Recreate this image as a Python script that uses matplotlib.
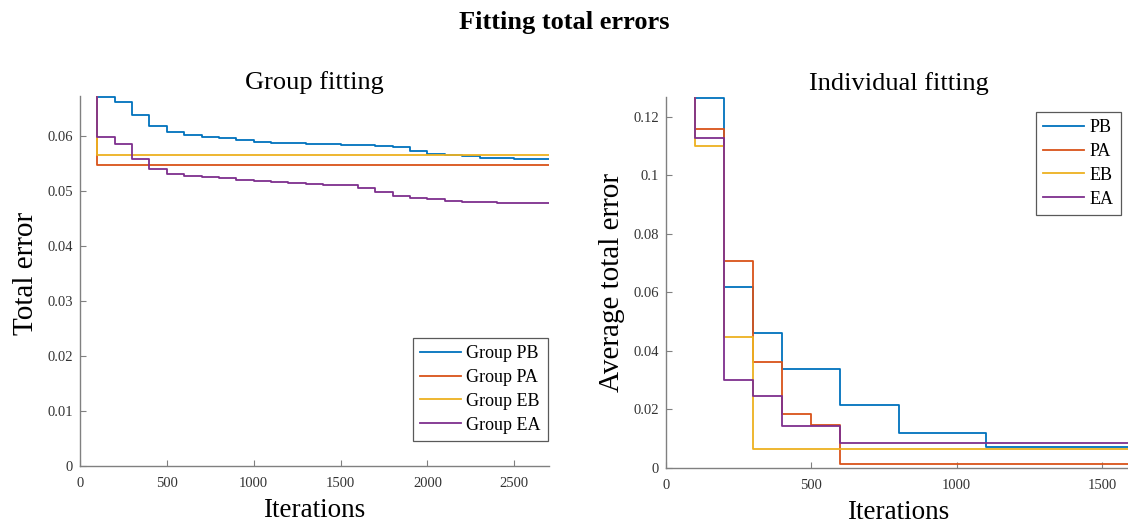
import numpy as np
import matplotlib
matplotlib.use('Agg')
import matplotlib.pyplot as plt
from matplotlib.ticker import FormatStrFormatter

plt.rcParams['font.family'] = ['Liberation Serif', 'DejaVu Serif']

# MATLAB default line colours
colors = ['#0072BD', '#D95319', '#EDB120', '#7E2F8E']

# Group fitting: best error per 100 iterations (levels at 100..2600, end at 2700)
group_iters = np.arange(100, 2800, 100)
group_start = 0.0672
group_pb = [0.0672, 0.0662, 0.0638, 0.0619, 0.0608, 0.0602, 0.0599, 0.0596, 0.0593,
            0.0590, 0.0588, 0.0587, 0.0586, 0.0585, 0.0584, 0.0583, 0.0582, 0.0581,
            0.0573, 0.0567, 0.0565, 0.0563, 0.0561, 0.0560, 0.0559, 0.0558]
group_pa = [0.0547] * 26
group_eb = [0.0565] * 26
group_ea = [0.0599, 0.0585, 0.0558, 0.0540, 0.0532, 0.0528, 0.0525, 0.0523, 0.0521,
            0.0519, 0.0517, 0.0515, 0.0513, 0.0512, 0.0511, 0.0505, 0.0498, 0.0491,
            0.0487, 0.0485, 0.0482, 0.0481, 0.0480, 0.0479, 0.0479, 0.0478]
group_labels = ['Group PB', 'Group PA', 'Group EB', 'Group EA']

# Individual fitting: average error (levels at 100..1500, end at 1600)
ind_iters = np.arange(100, 1700, 100)
ind_start = 0.1264
ind_pb = [0.1264, 0.0617, 0.0460, 0.0340, 0.0338, 0.0217, 0.0217, 0.0119, 0.0119,
          0.0119, 0.0071, 0.0071, 0.0071, 0.0071, 0.0071]
ind_pa = [0.1158, 0.0709, 0.0361, 0.0186, 0.0147] + [0.0013] * 10
ind_eb = [0.1101, 0.0447] + [0.0064] * 13
ind_ea = [0.1127, 0.0301, 0.0246, 0.0144, 0.0144] + [0.0087] * 10
ind_labels = ['PB', 'PA', 'EB', 'EA']

W, H = 1128, 528
fig = plt.figure(figsize=(W / 100, H / 100), dpi=100)


def px_axes(x0, y0, x1, y1):
    # pixel box (left, top, right, bottom) -> figure axes
    return fig.add_axes([x0 / W, 1 - y1 / H, (x1 - x0) / W, (y1 - y0) / H])


def draw_stairs(ax, iters, start, series, labels):
    for vals, c, lab in zip(series, colors, labels):
        x = np.r_[iters[0], iters]
        y = np.r_[start, vals, vals[-1]]
        ax.step(x, y, where='post', color=c, lw=1.3, label=lab)


def style(ax):
    for s in ['top', 'right']:
        ax.spines[s].set_visible(False)
    for s in ['left', 'bottom']:
        ax.spines[s].set_color('0.5')
        ax.spines[s].set_linewidth(1.0)
    ax.tick_params(direction='in', length=4, width=0.8, color='0.5',
                   labelcolor='0.2', labelsize=10.5)
    ax.tick_params(axis='x', pad=8)
    ax.tick_params(axis='y', pad=5)
    ax.yaxis.set_major_formatter(FormatStrFormatter('%g'))


def add_legend(ax, **kw):
    leg = ax.legend(fontsize=13, frameon=True, fancybox=False, framealpha=1,
                    handlelength=2.3, handletextpad=0.28, borderpad=0.4,
                    labelspacing=0.38, borderaxespad=0, **kw)
    leg.get_frame().set_edgecolor('0.35')
    leg.get_frame().set_linewidth(0.9)
    return leg


ax1 = px_axes(80, 96, 549, 466)
draw_stairs(ax1, group_iters, group_start, [group_pb, group_pa, group_eb, group_ea], group_labels)
ax1.set_xlim(0, 2700)
ax1.set_ylim(0, 0.0673)
ax1.set_xticks([0, 500, 1000, 1500, 2000, 2500])
ax1.set_yticks(np.arange(0, 0.061, 0.01))
style(ax1)
ax1.set_title('Group fitting', fontsize=19, pad=5)
ax1.set_xlabel('Iterations', fontsize=19.5, labelpad=6)
ax1.set_ylabel('Total error', fontsize=21)
ax1.yaxis.set_label_coords(-0.087, 0.52)
add_legend(ax1, loc='lower right', bbox_to_anchor=(0.998, 0.068))

ax2 = px_axes(666, 97, 1131, 468)
draw_stairs(ax2, ind_iters, ind_start, [ind_pb, ind_pa, ind_eb, ind_ea], ind_labels)
ax2.set_xlim(0, 1600)
ax2.set_ylim(0, 0.1268)
ax2.set_xticks([0, 500, 1000, 1500])
ax2.set_yticks(np.arange(0, 0.121, 0.02))
style(ax2)
ax2.set_title('Individual fitting', fontsize=19, pad=5)
ax2.set_xlabel('Iterations', fontsize=19.5, labelpad=6)
ax2.set_ylabel('Average total error', fontsize=21, labelpad=6)
add_legend(ax2, loc='upper right', bbox_to_anchor=(0.978, 0.96))

fig.text(0.5, 1 - 23 / H, 'Fitting total errors', fontsize=19, fontweight='bold',
         ha='center', va='center')

fig.savefig('out.png', dpi=100)
